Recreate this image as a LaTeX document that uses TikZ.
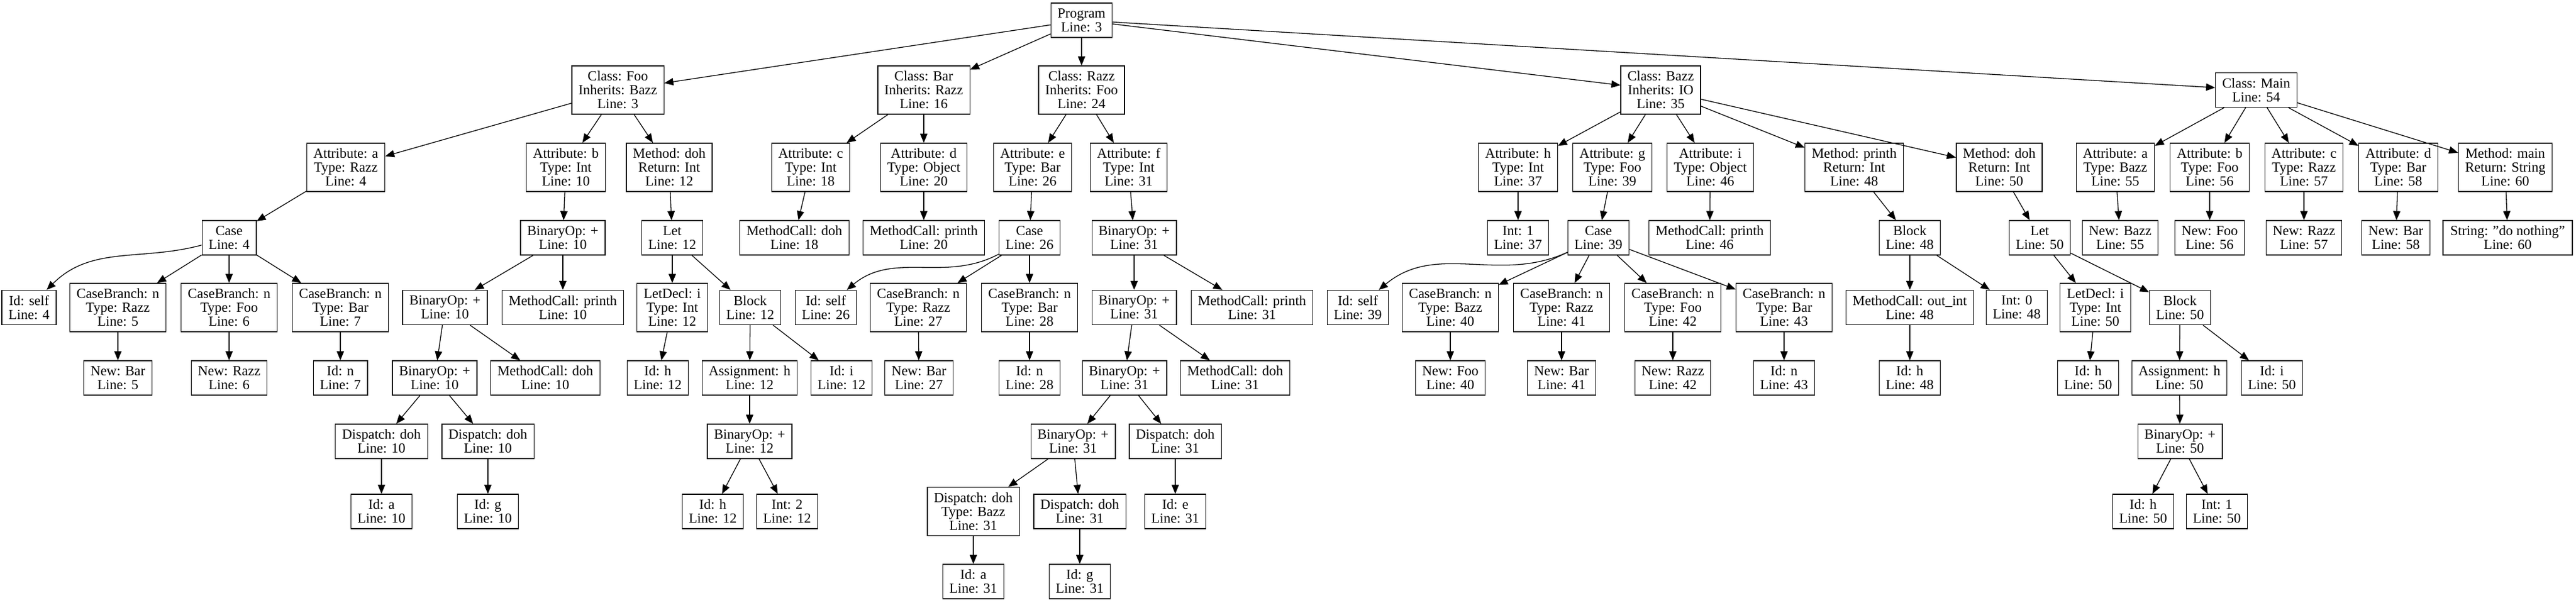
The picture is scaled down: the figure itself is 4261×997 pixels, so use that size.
\documentclass[tikz,border=0pt]{standalone}
\usepackage{fontspec}
\setmainfont{Liberation Serif}
\usepackage{tikz}
\usetikzlibrary{arrows.meta}
\tikzset{>={Triangle[length=15pt,width=12pt]}}

\begin{document}
\begin{tikzpicture}[x=1pt,y=-1pt,line width=1.3pt,
        ast/.style={draw,rectangle,align=center,inner xsep=11pt,inner ysep=0pt,
                font=\fontsize{23}{23}\selectfont},
        n2/.style={ast,minimum height=57pt},
        n3/.style={ast,minimum height=80pt}]
        \useasboundingbox (0,0) rectangle (4261,997);
        % rank 0 and classes
        \node (prog) at (1789,33.5)[n2]{Program\\Line: 3};
        \node (cfoo) at (1022,149)[n3]{Class: Foo\\Inherits: Bazz\\Line: 3};
        \node (cbar) at (1528,149)[n3]{Class: Bar\\Inherits: Razz\\Line: 16};
        \node (crazz) at (1789,149)[n3]{Class: Razz\\Inherits: Foo\\Line: 24};
        \node (cbazz) at (2747,149)[n3]{Class: Bazz\\Inherits: IO\\Line: 35};
        \node (cmain) at (3732,149)[n2]{Class: Main\\Line: 54};
        % features
        \node (fooa) at (572,277)[n3]{Attribute: a\\Type: Razz\\Line: 4};
        \node (foob) at (936,277)[n3]{Attribute: b\\Type: Int\\Line: 10};
        \node (foodoh) at (1107,277)[n3]{Method: doh\\Return: Int\\Line: 12};
        \node (barc) at (1341,277)[n3]{Attribute: c\\Type: Int\\Line: 18};
        \node (bard) at (1528,277)[n3]{Attribute: d\\Type: Object\\Line: 20};
        \node (razze) at (1708,277)[n3]{Attribute: e\\Type: Bar\\Line: 26};
        \node (razzf) at (1867,277)[n3]{Attribute: f\\Type: Int\\Line: 31};
        \node (bazzh) at (2511,277)[n3]{Attribute: h\\Type: Int\\Line: 37};
        \node (bazzg) at (2667,277)[n3]{Attribute: g\\Type: Foo\\Line: 39};
        \node (bazzi) at (2829,277)[n3]{Attribute: i\\Type: Object\\Line: 46};
        \node (bazzprinth) at (3067,277)[n3]{Method: printh\\Return: Int\\Line: 48};
        \node (bazzdoh) at (3307,277)[n3]{Method: doh\\Return: Int\\Line: 50};
        \node (maina) at (3499,277)[n3]{Attribute: a\\Type: Bazz\\Line: 55};
        \node (mainb) at (3655,277)[n3]{Attribute: b\\Type: Foo\\Line: 56};
        \node (mainc) at (3811,277)[n3]{Attribute: c\\Type: Razz\\Line: 57};
        \node (maind) at (3967,277)[n3]{Attribute: d\\Type: Bar\\Line: 58};
        \node (mainmain) at (4144,277)[n3]{Method: main\\Return: String\\Line: 60};
        % rank 3
        \node (case4) at (379,393.5)[n2]{Case\\Line: 4};
        \node (bop10a) at (931,393.5)[n2]{BinaryOp: +\\Line: 10};
        \node (let12) at (1112,393.5)[n2]{Let\\Line: 12};
        \node (mcdoh18) at (1314,393.5)[n2]{MethodCall: doh\\Line: 18};
        \node (mcprinth20) at (1528,393.5)[n2]{MethodCall: printh\\Line: 20};
        \node (case26) at (1703,393.5)[n2]{Case\\Line: 26};
        \node (bop31a) at (1876,393.5)[n2]{BinaryOp: +\\Line: 31};
        \node (int37) at (2511,393.5)[n2]{Int: 1\\Line: 37};
        \node (case39) at (2644,393.5)[n2]{Case\\Line: 39};
        \node (mcprinth46) at (2828,393.5)[n2]{MethodCall: printh\\Line: 46};
        \node (block48) at (3159,393.5)[n2]{Block\\Line: 48};
        \node (let50) at (3374,393.5)[n2]{Let\\Line: 50};
        \node (newbazz55) at (3507,393.5)[n2]{New: Bazz\\Line: 55};
        \node (newfoo56) at (3655,393.5)[n2]{New: Foo\\Line: 56};
        \node (newrazz57) at (3811,393.5)[n2]{New: Razz\\Line: 57};
        \node (newbar58) at (3963,393.5)[n2]{New: Bar\\Line: 58};
        \node (str60) at (4148,393.5)[n2,minimum width=214pt]{String: "do nothing"\\Line: 60};
        % rank 4
        \node (idself4) at (48,509)[n2]{Id: self\\Line: 4};
        \node (cbr5) at (195,509)[n3]{CaseBranch: n\\Type: Razz\\Line: 5};
        \node (cbf6) at (379,509)[n3]{CaseBranch: n\\Type: Foo\\Line: 6};
        \node (cbb7) at (563,509)[n3]{CaseBranch: n\\Type: Bar\\Line: 7};
        \node (bop10b) at (736,509)[n2]{BinaryOp: +\\Line: 10};
        \node (mcprinth10) at (931,509)[n2]{MethodCall: printh\\Line: 10};
        \node (letdecl12) at (1112,509)[n3]{LetDecl: i\\Type: Int\\Line: 12};
        \node (block12) at (1241,509)[n2]{Block\\Line: 12};
        \node (idself26) at (1366,509)[n2]{Id: self\\Line: 26};
        \node (cbr27) at (1519,509)[n3]{CaseBranch: n\\Type: Razz\\Line: 27};
        \node (cbb28) at (1703,509)[n3]{CaseBranch: n\\Type: Bar\\Line: 28};
        \node (bop31b) at (1876,509)[n2]{BinaryOp: +\\Line: 31};
        \node (mcprinth31) at (2071,509)[n2]{MethodCall: printh\\Line: 31};
        \node (idself39) at (2246,509)[n2]{Id: self\\Line: 39};
        \node (cbbazz40) at (2399,509)[n3]{CaseBranch: n\\Type: Bazz\\Line: 40};
        \node (cbr41) at (2583,509)[n3]{CaseBranch: n\\Type: Razz\\Line: 41};
        \node (cbf42) at (2767,509)[n3]{CaseBranch: n\\Type: Foo\\Line: 42};
        \node (cbb43) at (2951,509)[n3]{CaseBranch: n\\Type: Bar\\Line: 43};
        \node (mcoutint48) at (3159,509)[n2]{MethodCall: out\_int\\Line: 48};
        \node (int48) at (3336,509)[n2]{Int: 0\\Line: 48};
        \node (letdecl50) at (3466,509)[n3]{LetDecl: i\\Type: Int\\Line: 50};
        \node (block50) at (3606,509)[n2]{Block\\Line: 50};
        % rank 5
        \node (newbar5) at (195,625.5)[n2]{New: Bar\\Line: 5};
        \node (newrazz6) at (379,625.5)[n2]{New: Razz\\Line: 6};
        \node (idn7) at (563,625.5)[n2]{Id: n\\Line: 7};
        \node (bop10c) at (719,625.5)[n2]{BinaryOp: +\\Line: 10};
        \node (mcdoh10) at (902,625.5)[n2]{MethodCall: doh\\Line: 10};
        \node (idh12) at (1088,625.5)[n2]{Id: h\\Line: 12};
        \node (assign12) at (1240,625.5)[n2]{Assignment: h\\Line: 12};
        \node (idi12) at (1392,625.5)[n2]{Id: i\\Line: 12};
        \node (newbar27) at (1520,625.5)[n2]{New: Bar\\Line: 27};
        \node (idn28) at (1703,625.5)[n2]{Id: n\\Line: 28};
        \node (bop31c) at (1860,625.5)[n2]{BinaryOp: +\\Line: 31};
        \node (mcdoh31) at (2043,625.5)[n2]{MethodCall: doh\\Line: 31};
        \node (newfoo40) at (2399,625.5)[n2]{New: Foo\\Line: 40};
        \node (newbar41) at (2583,625.5)[n2]{New: Bar\\Line: 41};
        \node (newrazz42) at (2767,625.5)[n2]{New: Razz\\Line: 42};
        \node (idn43) at (2951,625.5)[n2]{Id: n\\Line: 43};
        \node (idh48) at (3159,625.5)[n2]{Id: h\\Line: 48};
        \node (idh50) at (3454,625.5)[n2]{Id: h\\Line: 50};
        \node (assign50) at (3605,625.5)[n2]{Assignment: h\\Line: 50};
        \node (idi50) at (3758,625.5)[n2]{Id: i\\Line: 50};
        % rank 6
        \node (dispa10) at (631,730.5)[n2]{Dispatch: doh\\Line: 10};
        \node (dispg10) at (807,730.5)[n2]{Dispatch: doh\\Line: 10};
        \node (bop12) at (1240,730.5)[n2]{BinaryOp: +\\Line: 12};
        \node (bop31d) at (1775,730.5)[n2]{BinaryOp: +\\Line: 31};
        \node (dispe31) at (1944,730.5)[n2]{Dispatch: doh\\Line: 31};
        \node (bop50) at (3606,730.5)[n2]{BinaryOp: +\\Line: 50};
        % rank 7 and 8
        \node (ida10) at (631,846.5)[n2]{Id: a\\Line: 10};
        \node (idg10) at (807,846.5)[n2]{Id: g\\Line: 10};
        \node (idh12b) at (1179,846.5)[n2]{Id: h\\Line: 12};
        \node (int2) at (1302,846.5)[n2]{Int: 2\\Line: 12};
        \node (dispbazz31) at (1610,846.5)[n3]{Dispatch: doh\\Type: Bazz\\Line: 31};
        \node (dispg31) at (1786,846.5)[n2]{Dispatch: doh\\Line: 31};
        \node (ide31) at (1944,846.5)[n2]{Id: e\\Line: 31};
        \node (idh50b) at (3545,846.5)[n2]{Id: h\\Line: 50};
        \node (int1) at (3667,846.5)[n2]{Int: 1\\Line: 50};
        \node (ida31) at (1610,962.5)[n2]{Id: a\\Line: 31};
        \node (idg31) at (1786,962.5)[n2]{Id: g\\Line: 31};
        % edges
        \draw [->](prog)--(cfoo);
        \draw [->](prog)--(cbar);
        \draw [->](prog)--(crazz);
        \draw [->](prog)--(cbazz);
        \draw [->](prog)--(cmain);
        \draw [->](cfoo)--(fooa);
        \draw [->](cfoo)--(foob);
        \draw [->](cfoo)--(foodoh);
        \draw [->](fooa)--(case4);
        \draw [->](case4) to[out=195,in=45] (idself4);
        \draw [->](case4)--(cbr5);
        \draw [->](case4)--(cbf6);
        \draw [->](case4)--(cbb7);
        \draw [->](cbr5)--(newbar5);
        \draw [->](cbf6)--(newrazz6);
        \draw [->](cbb7)--(idn7);
        \draw [->](foob)--(bop10a);
        \draw [->](bop10a)--(bop10b);
        \draw [->](bop10a)--(mcprinth10);
        \draw [->](bop10b)--(bop10c);
        \draw [->](bop10b)--(mcdoh10);
        \draw [->](bop10c)--(dispa10);
        \draw [->](bop10c)--(dispg10);
        \draw [->](dispa10)--(ida10);
        \draw [->](dispg10)--(idg10);
        \draw [->](foodoh)--(let12);
        \draw [->](let12)--(letdecl12);
        \draw [->](let12)--(block12);
        \draw [->](letdecl12)--(idh12);
        \draw [->](block12)--(assign12);
        \draw [->](block12)--(idi12);
        \draw [->](assign12)--(bop12);
        \draw [->](bop12)--(idh12b);
        \draw [->](bop12)--(int2);
        \draw [->](cbar)--(barc);
        \draw [->](cbar)--(bard);
        \draw [->](barc)--(mcdoh18);
        \draw [->](bard)--(mcprinth20);
        \draw [->](crazz)--(razze);
        \draw [->](crazz)--(razzf);
        \draw [->](razze)--(case26);
        \draw [->](case26) to[out=208,in=40] (idself26);
        \draw [->](case26)--(cbr27);
        \draw [->](case26)--(cbb28);
        \draw [->](cbr27)--(newbar27);
        \draw [->](cbb28)--(idn28);
        \draw [->](razzf)--(bop31a);
        \draw [->](bop31a)--(bop31b);
        \draw [->](bop31a)--(mcprinth31);
        \draw [->](bop31b)--(bop31c);
        \draw [->](bop31b)--(mcdoh31);
        \draw [->](bop31c)--(bop31d);
        \draw [->](bop31c)--(dispe31);
        \draw [->](bop31d)--(dispbazz31);
        \draw [->](bop31d)--(dispg31);
        \draw [->](dispbazz31)--(ida31);
        \draw [->](dispg31)--(idg31);
        \draw [->](dispe31)--(ide31);
        \draw [->](cbazz)--(bazzh);
        \draw [->](cbazz)--(bazzg);
        \draw [->](cbazz)--(bazzi);
        \draw [->](cbazz)--(bazzprinth);
        \draw [->](cbazz)--(bazzdoh);
        \draw [->](bazzh)--(int37);
        \draw [->](bazzg)--(case39);
        \draw [->](case39) to[out=205,in=40] (idself39);
        \draw [->](case39)--(cbbazz40);
        \draw [->](case39)--(cbr41);
        \draw [->](case39)--(cbf42);
        \draw [->](case39)--(cbb43);
        \draw [->](cbbazz40)--(newfoo40);
        \draw [->](cbr41)--(newbar41);
        \draw [->](cbf42)--(newrazz42);
        \draw [->](cbb43)--(idn43);
        \draw [->](bazzi)--(mcprinth46);
        \draw [->](bazzprinth)--(block48);
        \draw [->](block48)--(mcoutint48);
        \draw [->](block48)--(int48);
        \draw [->](mcoutint48)--(idh48);
        \draw [->](bazzdoh)--(let50);
        \draw [->](let50)--(letdecl50);
        \draw [->](let50)--(block50);
        \draw [->](letdecl50)--(idh50);
        \draw [->](block50)--(assign50);
        \draw [->](block50)--(idi50);
        \draw [->](assign50)--(bop50);
        \draw [->](bop50)--(idh50b);
        \draw [->](bop50)--(int1);
        \draw [->](cmain)--(maina);
        \draw [->](cmain)--(mainb);
        \draw [->](cmain)--(mainc);
        \draw [->](cmain)--(maind);
        \draw [->](cmain)--(mainmain);
        \draw [->](maina)--(newbazz55);
        \draw [->](mainb)--(newfoo56);
        \draw [->](mainc)--(newrazz57);
        \draw [->](maind)--(newbar58);
        \draw [->](mainmain)--(str60);
\end{tikzpicture}
\end{document}
